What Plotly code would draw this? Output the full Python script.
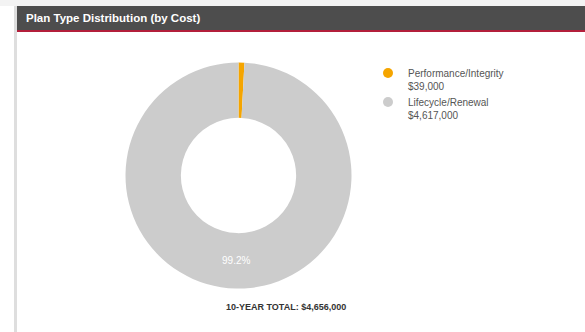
import plotly.graph_objects as go

# Data
plan_types = ["Performance/Integrity", "Lifecycle/Renewal"]
costs = [39000, 4617000]
colors = ["#F5A500", "#CCCCCC"]
title_text = "Plan Type Distribution (by Cost)"
total_label = "10-YEAR TOTAL"

W, H = 585, 332
total = sum(costs)

fig = go.Figure()

# donut
cx, cy, r = 238.5, 175.5, 113
fig.add_trace(go.Pie(
    labels=plan_types,
    values=costs,
    marker=dict(colors=colors, line=dict(width=0)),
    hole=0.51,
    sort=False,
    direction="clockwise",
    rotation=0,
    texttemplate=["" if v / total < 0.02 else "%{percent:.1%}" for v in costs],
    textposition="inside",
    insidetextorientation="horizontal",
    textfont=dict(color="white", size=10, family="Liberation Sans, Arial"),
    showlegend=False,
    hoverinfo="skip",
    domain=dict(x=[(cx - r) / W, (cx + r) / W],
                y=[(H - cy - r) / H, (H - cy + r) / H]),
))

# legend entries with circle markers
for lab, val, col in zip(plan_types, costs, colors):
    fig.add_trace(go.Scatter(
        x=[None], y=[None], mode="markers",
        marker=dict(symbol="circle", size=10, color=col),
        name=f"{lab}<br>${val:,}",
        showlegend=True,
    ))

fig.update_layout(
    width=W, height=H,
    margin=dict(l=0, r=0, t=0, b=0),
    paper_bgcolor="white",
    plot_bgcolor="white",
    xaxis=dict(visible=False),
    yaxis=dict(visible=False),
    legend=dict(
        x=368 / W, y=(H - 60) / H, xanchor="left", yanchor="top",
        font=dict(size=10, color="#555555", family="Liberation Sans, Arial"),
        bgcolor="rgba(0,0,0,0)",
        itemwidth=30,
        valign="top",
        tracegroupgap=0,
    ),
    shapes=[
        # top light strip
        dict(type="rect", xref="paper", yref="paper", x0=0, x1=1,
             y0=(H - 6) / H, y1=1, fillcolor="#F3F3F3", line=dict(width=0), layer="below"),
        # left shadow
        dict(type="rect", xref="paper", yref="paper", x0=14 / W, x1=17 / W,
             y0=0, y1=(H - 6) / H, fillcolor="#DEDEDE", line=dict(width=0), layer="below"),
        # header bar
        dict(type="rect", xref="paper", yref="paper", x0=17 / W, x1=1,
             y0=(H - 30) / H, y1=(H - 6) / H, fillcolor="#4D4D4D", line=dict(width=0), layer="below"),
        # red underline
        dict(type="rect", xref="paper", yref="paper", x0=17 / W, x1=1,
             y0=(H - 32) / H, y1=(H - 30) / H, fillcolor="#B31F3B", line=dict(width=0), layer="below"),
    ],
    annotations=[
        dict(text=f"<b>{title_text}</b>", xref="paper", yref="paper",
             x=24 / W, y=(H - 18) / H, xanchor="left", yanchor="middle", showarrow=False,
             font=dict(size=11.5, color="white", family="Liberation Sans, Arial")),
        dict(text=f"<b>{total_label}: ${total:,}</b>", xref="paper", yref="paper",
             x=286 / W, y=(H - 307) / H, xanchor="center", yanchor="middle", showarrow=False,
             font=dict(size=9, color="#333333", family="Liberation Sans, Arial")),
    ],
)

fig.write_html("out.html", config=dict(displayModeBar=False))
